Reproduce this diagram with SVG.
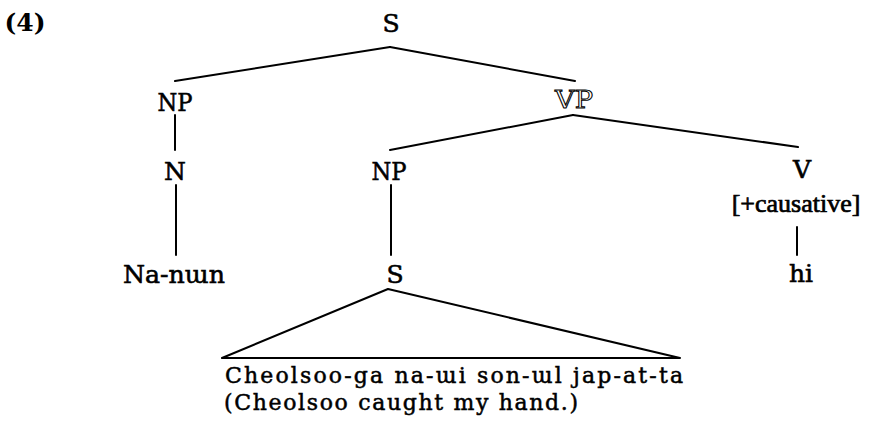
<svg xmlns="http://www.w3.org/2000/svg" width="874" height="431" viewBox="0 0 874 431">
<style>
text{font-family:"DejaVu Serif","Liberation Serif",serif;fill:#000;stroke:#000;stroke-width:0.6;text-anchor:middle}
.l{font-size:25px}
.c{font-family:"Liberation Serif","DejaVu Serif",serif;font-size:26px;stroke-width:0.7}
.s{font-size:22px;text-anchor:start;stroke-width:0.5}
.o{fill:#fff;stroke:#000;stroke-width:1}
.e{stroke:#000;stroke-width:2;fill:none;stroke-linecap:round;stroke-linejoin:round}
</style>
<rect width="874" height="431" fill="#fff"/>
<text x="25" y="31" class="l" style="font-weight:bold;stroke-width:0">(4)</text>
<g id="edges">
<line class="e" x1="390" y1="47" x2="175" y2="81"/>
<line class="e" x1="390" y1="47" x2="575" y2="81"/>
<line class="e" x1="175" y1="115" x2="175" y2="150"/>
<line class="e" x1="176" y1="185" x2="176" y2="255"/>
<line class="e" x1="573" y1="115" x2="390" y2="150"/>
<line class="e" x1="573" y1="115" x2="798" y2="147"/>
<line class="e" x1="391" y1="185" x2="391" y2="255"/>
<line class="e" x1="797" y1="227" x2="797" y2="255"/>
<polygon class="e" points="388,289 222,358 680,358"/>
</g>
<g id="n-S"><text x="391" y="32" class="l">S</text></g>
<g id="n-NP1"><text x="175" y="111" class="l" textLength="35" lengthAdjust="spacingAndGlyphs">NP</text></g>
<g id="n-VP"><text x="574" y="108" class="l o" textLength="38" lengthAdjust="spacingAndGlyphs">VP</text></g>
<g id="n-N"><text x="175" y="180" class="l">N</text></g>
<g id="n-NP2"><text x="389" y="180" class="l" textLength="35" lengthAdjust="spacingAndGlyphs">NP</text></g>
<g id="n-V"><text x="802" y="178" class="l">V</text><text x="796" y="212" class="c">[+causative]</text></g>
<g id="n-Nanun"><text x="174" y="283" class="l" textLength="102" lengthAdjust="spacingAndGlyphs">Na-nɯn</text></g>
<g id="n-S2"><text x="395" y="283" class="l">S</text></g>
<g id="n-hi"><text x="801" y="282" class="l">hi</text></g>
<g id="n-sent">
<text x="225" y="383" class="s" textLength="458" lengthAdjust="spacing">Cheolsoo-ga na-ɯi son-ɯl jap-at-ta</text>
<text x="224" y="410" class="s" textLength="354" lengthAdjust="spacing">(Cheolsoo caught my hand.)</text>
</g>
</svg>
